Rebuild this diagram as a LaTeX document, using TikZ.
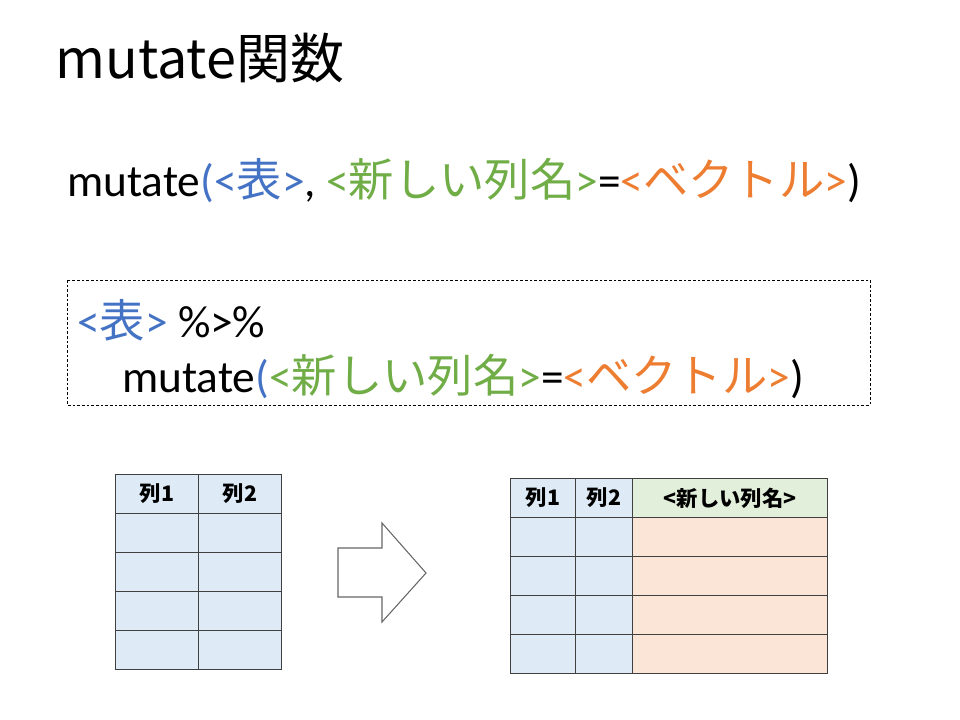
\documentclass[tikz,border=0pt]{standalone}
\usepackage{fontspec}
\setmainfont{Carlito}
\newfontfamily\jpfont{Noto Sans CJK JP}
\usepackage{xcolor}
\definecolor{rblue}{RGB}{68,114,196}
\definecolor{rgreen}{RGB}{112,173,71}
\definecolor{rorange}{RGB}{237,125,49}
\definecolor{tblblue}{RGB}{222,235,247}
\definecolor{tblgreen}{RGB}{226,239,218}
\definecolor{tblorange}{RGB}{251,229,214}
\definecolor{tblline}{RGB}{64,64,64}
\newcommand{\jp}[1]{{\jpfont #1}}

\tikzset{
  code/.style={anchor=base west, inner sep=0pt, font=\fontsize{34}{40}\selectfont},
  cell/.style={draw=tblline, line width=0.9pt, anchor=north west, inner sep=0pt,
    minimum height=39*0.75pt, font=\jpfont\bfseries\fontsize{16}{18}\selectfont},
  head/.style={font=\jpfont\bfseries\fontsize{16}{18}\selectfont},
}

\begin{document}
\begin{tikzpicture}[x=0.75pt,y=-0.75pt]
    \useasboundingbox (0,0) rectangle (960,720);

    \node[anchor=base west, inner sep=0pt] (title) at (55,79)
        {\jpfont\fontsize{40.5}{48}\selectfont mutate関数};

    \node[code] (call) at (67,197)
        {mutate{\color{rblue}(<\jp{表}>}, {\color{rgreen}<\jp{新しい列名}>}={\color{rorange}<\jp{ベクトル}>})};

    % pipe version
    \draw[dash pattern=on 2pt off 1.5pt, line width=0.6pt] (67,280) rectangle (870,405);
    \node[code] (pipe) at (77,337) {{\color{rblue}<\jp{表}>} \%>\%};
    \node[code] (pipecall) at (122,392)
        {mutate{\color{rblue}(}{\color{rgreen}<\jp{新しい列名}>}={\color{rorange}<\jp{ベクトル}>})};

    % table before
    \foreach \r in {0,...,4}
        \foreach \c in {0,1}
            \node[cell, minimum width=83*0.75pt, fill=tblblue] (L\r\c) at (115+83*\c, 474+39*\r) {};
    \node[head] at (L00) {列1};
    \node[head] at (L01) {列2};

    % arrow
    \draw[draw=gray!80!black, line width=0.8pt, line join=miter]
        (338,548) -- (382,548) -- (382,523) -- (426,573) -- (382,622) -- (382,597) -- (338,597) -- cycle;

    % table after
    \foreach \r in {0,...,4} {
        \node[cell, minimum width=65*0.75pt, fill=tblblue] (R\r0) at (510, 478+39*\r) {};
        \node[cell, minimum width=57*0.75pt, fill=tblblue] (R\r1) at (575, 478+39*\r) {};
        \node[cell, minimum width=195*0.75pt, fill=tblorange] (R\r2) at (632, 478+39*\r) {};
    }
    \node[cell, minimum width=195*0.75pt, fill=tblgreen] at (632,478) {<新しい列名>};
    \node[head] at (R00) {列1};
    \node[head] at (R01) {列2};
\end{tikzpicture}
\end{document}
